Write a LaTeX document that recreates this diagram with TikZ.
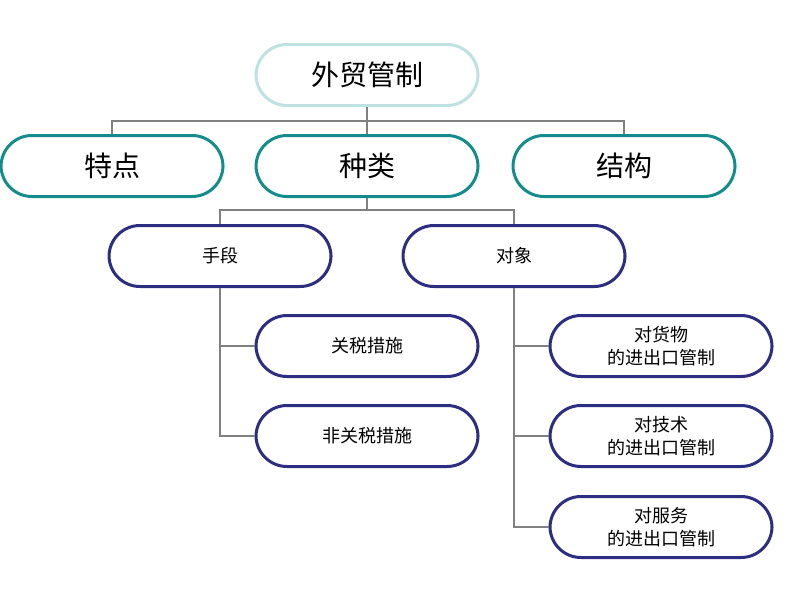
\documentclass[tikz,border=0pt]{standalone}
\usepackage{fontspec}
\setmainfont{Noto Sans CJK SC}
\usepackage{tikz}
\usetikzlibrary{positioning}
\definecolor{paleteal}{RGB}{190,225,225}
\definecolor{deepteal}{RGB}{20,140,140}
\definecolor{navyline}{RGB}{45,45,130}
\definecolor{linkgray}{RGB}{128,128,128}

\begin{document}
\begin{tikzpicture}[x=1pt,y=-1pt,
      pill/.style={draw,line width=3pt,rounded corners=31pt,fill=white,
        minimum width=222pt,minimum height=61pt,align=center,inner sep=0pt},
      topbox/.style={pill,draw=paleteal,font=\fontsize{28}{32}\selectfont},
      midbox/.style={pill,draw=deepteal,font=\fontsize{28}{32}\selectfont},
      lowbox/.style={pill,draw=navyline,font=\fontsize{18}{23}\selectfont},
      link/.style={draw=linkgray,line width=2pt}]
    \useasboundingbox (0,0) rectangle (800,600);
    \node[topbox] (main) at (367,75) {外贸管制};
    \node[midbox] (feature) at (112,166) {特点};
    \node[midbox] (kind) at (367,166) {种类};
    \node[midbox] (structure) at (624,166) {结构};
    \node[lowbox] (means) at (220,256) {手段};
    \node[lowbox] (object) at (514,256) {对象};
    \node[lowbox] (tariff) at (367,346) {关税措施};
    \node[lowbox] (nontariff) at (367,436) {非关税措施};
    \node[lowbox] (goods) at (661,346) {对货物\\的进出口管制};
    \node[lowbox] (tech) at (661,436) {对技术\\的进出口管制};
    \node[lowbox] (service) at (661,527) {对服务\\的进出口管制};
    % bus lines
    \coordinate (bus1) at (367,121);
    \coordinate (bus2) at (367,210);
    \draw[link] (main.south) -- (kind.north);
    \draw[link] (bus1) -| (feature.north);
    \draw[link] (bus1) -| (structure.north);
    \draw[link] (kind.south) -- (bus2);
    \draw[link] (bus2) -| (means.north);
    \draw[link] (bus2) -| (object.north);
    % branches
    \draw[link] (means.south) |- (tariff.west);
    \draw[link] (means.south) |- (nontariff.west);
    \draw[link] (object.south) |- (goods.west);
    \draw[link] (object.south) |- (tech.west);
    \draw[link] (object.south) |- (service.west);
\end{tikzpicture}
\end{document}
